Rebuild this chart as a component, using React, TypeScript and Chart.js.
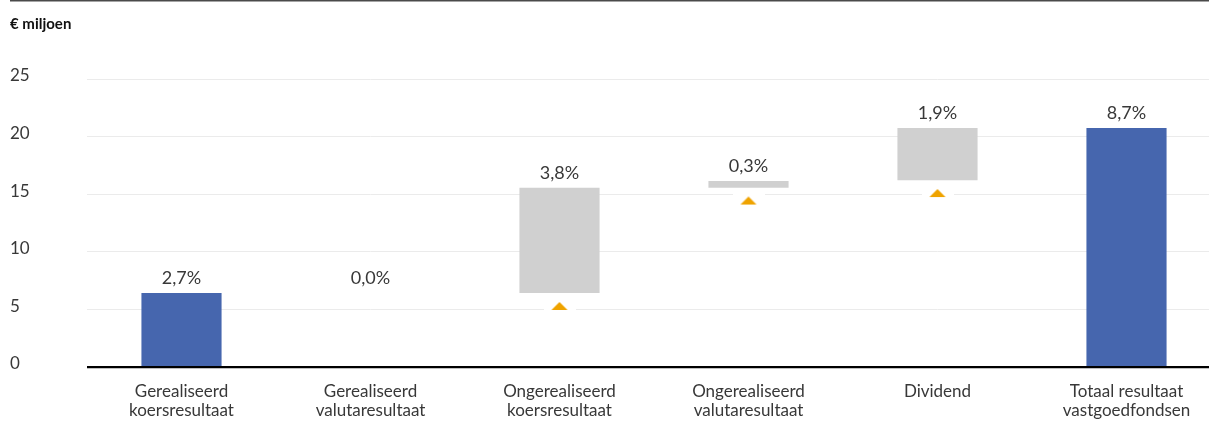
import React, { useEffect, useRef } from "react";
import { Chart, registerables } from "chart.js";

Chart.register(...registerables);

const categories: string[][] = [
  ["Gerealiseerd", "koersresultaat"],
  ["Gerealiseerd", "valutaresultaat"],
  ["Ongerealiseerd", "koersresultaat"],
  ["Ongerealiseerd", "valutaresultaat"],
  ["Dividend"],
  ["Totaal resultaat", "vastgoedfondsen"],
];
const barLow: number[] = [0, 6.42, 6.42, 15.55, 16.22, 0];
const barHigh: number[] = [6.42, 6.42, 15.55, 16.15, 20.75, 20.75];
const barIsTotal: boolean[] = [true, false, false, false, false, true];
const pctLabels: string[] = ["2,7%", "0,0%", "3,8%", "0,3%", "1,9%", "8,7%"];
const arrowValues: (number | null)[] = [null, null, 5.3, 14.45, 15.1, null];
const yTicks: number[] = [0, 5, 10, 15, 20, 25];
const unitLabel = "€ miljoen";

const FONT = "Lato, 'Open Sans', sans-serif";
const BLUE = "#4666ae";
const GREY = "#d0d0d0";
const ORANGE = "#efa300";
const TEXT = "#383838";

function makeArrow(): HTMLCanvasElement {
  const c = document.createElement("canvas");
  c.width = 32;
  c.height = 16;
  const g = c.getContext("2d")!;
  g.fillStyle = "#ffffff";
  g.fillRect(0, 0, 32, 16);
  g.fillStyle = ORANGE;
  g.beginPath();
  g.moveTo(8, 12);
  g.lineTo(24, 12);
  g.lineTo(16, 4);
  g.closePath();
  g.fill();
  return c;
}

const decorPlugin = {
  id: "decor",
  afterDraw(chart: any) {
    const ctx = chart.ctx;
    ctx.save();
    ctx.fillStyle = "#4a4a4a";
    ctx.fillRect(10, 0, chart.width, 1.5);
    ctx.fillStyle = "#111";
    ctx.font = `bold 15px ${FONT}`;
    ctx.textAlign = "left";
    ctx.textBaseline = "middle";
    ctx.fillText(unitLabel, 10, 24);
    const meta = chart.getDatasetMeta(0);
    ctx.font = `18px ${FONT}`;
    ctx.fillStyle = TEXT;
    ctx.textAlign = "center";
    meta.data.forEach((el: any, i: number) => {
      const top = Math.min(el.y, el.base);
      ctx.fillText(pctLabels[i], el.x, top - 14.5);
    });
    ctx.restore();
  },
};

export default function App() {
  const ref = useRef<HTMLCanvasElement | null>(null);
  useEffect(() => {
    if (!ref.current) return;
    const arrow = makeArrow();
    const chart = new Chart(ref.current, {
      type: "bar",
      data: {
        labels: categories as any,
        datasets: [
          {
            type: "bar",
            data: barLow.map((l, i) => [l, barHigh[i]]) as any,
            backgroundColor: barIsTotal.map((t) => (t ? BLUE : GREY)),
            borderWidth: 0,
            categoryPercentage: 1,
            barPercentage: 0.424,
            order: 2,
          },
          {
            type: "line",
            data: arrowValues as any,
            showLine: false,
            pointStyle: arrow as any,
            pointRadius: 8,
            order: 1,
          } as any,
        ],
      },
      options: {
        responsive: false,
        animation: false,
        layout: { padding: { top: 79, left: 10, right: 0, bottom: 0 } },
        plugins: {
          legend: { display: false },
          tooltip: { enabled: false },
        },
        scales: {
          x: {
            grid: { display: false, drawTicks: false },
            border: { display: false },
            ticks: {
              color: TEXT,
              font: { family: FONT, size: 17, lineHeight: 1.06 } as any,
              padding: 16,
              maxRotation: 0,
              autoSkip: false,
            },
            afterFit(scale: any) {
              scale.height = 54;
            },
          },
          y: {
            min: 0,
            max: 25,
            afterBuildTicks(scale: any) {
              scale.ticks = yTicks.map((v) => ({ value: v }));
            },
            grid: {
              color: (c: any) => (c.tick && c.tick.value === 0 ? "#000000" : "#ebebeb"),
              lineWidth: (c: any) => (c.tick && c.tick.value === 0 ? 2.2 : 1),
              drawTicks: false,
            },
            border: { display: false },
            ticks: {
              color: TEXT,
              font: { family: FONT, size: 17 },
              crossAlign: "far",
              labelOffset: -3,
              padding: 0,
            },
            afterFit(scale: any) {
              scale.width = 77;
            },
          },
        },
      },
      plugins: [decorPlugin],
    });
    return () => chart.destroy();
  }, []);
  return (
    <div
      style={{
        position: "absolute",
        left: 0,
        top: 0,
        width: 1209,
        height: 421,
        overflow: "hidden",
        background: "#fff",
      }}
    >
      <canvas ref={ref} width={1230} height={421} style={{ width: 1230, height: 421, display: "block" }} />
    </div>
  );
}
